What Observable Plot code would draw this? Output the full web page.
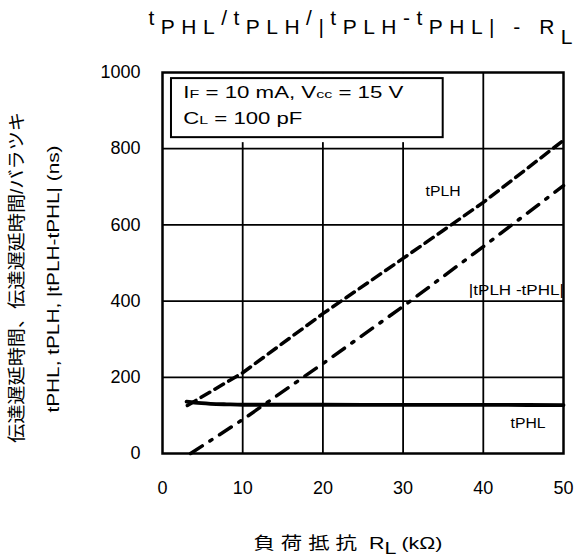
<!DOCTYPE html>
<html><head><meta charset="utf-8">
<script src="https://cdn.jsdelivr.net/npm/d3@7"></script>
<script src="https://cdn.jsdelivr.net/npm/@observablehq/plot@0.6"></script>
<style>body{margin:0;background:#fff}</style>
</head><body><div id="chart"></div>
<script>
// ---- data ----
const rlPLH = [3.1, 10, 20, 30, 40, 50];
const tPLH = [126, 212, 367, 512, 659, 822];
const rlDiff = [3.5, 10, 20, 30, 40, 50];
const tDiff = [0, 89, 236, 386, 543, 703];
const rlPHL = [3, 4, 6, 8, 10, 20, 30, 40, 50];
const tPHL = [136, 133.5, 130.5, 129, 128, 128, 127.5, 127.5, 127];
const xTicks = [0, 10, 20, 30, 40, 50];
const yTicks = [0, 200, 400, 600, 800, 1000];

const titleText = "tPHL/tPLH/|tPLH-tPHL| - RL";
const xTitle = "負 荷 抵 抗  RL (kΩ)";
const yTitle1 = "伝達遅延時間、伝達遅延時間/バラツキ";
const yTitle2 = "tPHL, tPLH, |tPLH-tPHL| (ns)";
const cond1 = "IF = 10 mA, Vcc = 15 V";
const cond2 = "CL = 100 pF";
const labPLH = "tPLH";
const labDiff = "|tPLH -tPHL|";
const labPHL = "tPHL";

const sPLH = rlPLH.map((x, i) => ({x, y: tPLH[i]}));
const sDiff = rlDiff.map((x, i) => ({x, y: tDiff[i]}));
const sPHL = rlPHL.map((x, i) => ({x, y: tPHL[i]}));

const FONT = '"Liberation Sans", Arial, "Noto Sans CJK JP", sans-serif';

// rich-text rendering (sub/superscripts) applied after Plot draws the text
const sm = (s, k = 0.72) => `<tspan font-size="${k}em">${s}</tspan>`;
const up = (s) => `<tspan dy="-9">${s}</tspan>`;
const dn = (s) => `<tspan dy="9">${s}</tspan>`;
const rich = new Map([
  [titleText, {base: true, len: 424, adjust: "spacing",
    html: up("t") + dn("PHL") + up("/t") + dn("PLH") + up("/") + dn("|") + up("t") + dn("PLH") + up("-t") + dn("PHL| - R") + `<tspan dy="10">L</tspan>`}],
  [xTitle, {base: true, len: 189,
    html: `負 荷 抵 抗  R<tspan dy="5">L</tspan><tspan dy="-5"> (kΩ)</tspan>`}],
  [cond1, {base: true, len: 220, html: `I${sm("F")} = 10 mA, V${sm("cc")} = 15 V`}],
  [cond2, {base: true, len: 119, html: `C${sm("L")} = 100 pF`}],
  [yTitle1, {len: 331}],
  [yTitle2, {len: 267}],
  [labPLH, {base: true, len: 35}],
  [labDiff, {base: true, len: 95}],
  [labPHL, {base: true, len: 35}]
]);

const chart = Plot.plot({
  width: 576,
  height: 560,
  marginTop: 72,
  marginBottom: 107,
  marginLeft: 162,
  marginRight: 13,
  style: {fontFamily: FONT, fontSize: "18px", color: "black", background: "white"},
  x: {domain: [0, 50]},
  y: {domain: [0, 1000]},
  marks: [
    Plot.ruleX(xTicks.slice(1, -1), {stroke: "black", strokeWidth: 1.8}),
    Plot.ruleY(yTicks.slice(1, -1), {stroke: "black", strokeWidth: 1.8}),
    // condition box
    Plot.rect([0], {x1: 1.12, x2: 35, y1: 829, y2: 984, fill: "white", stroke: "white", strokeWidth: 10}),
    Plot.rect([0], {x1: 1.12, x2: 35, y1: 829, y2: 984, fill: "none", stroke: "black", strokeWidth: 2}),
    Plot.text([cond1], {x: 2.6, y: 932, text: d => d, textAnchor: "start", fontSize: 16}),
    Plot.text([cond2], {x: 2.6, y: 866, text: d => d, textAnchor: "start", fontSize: 16}),
    // curves
    Plot.line(sPHL, {x: "x", y: "y", stroke: "black", strokeWidth: 3.8, curve: "monotone-x"}),
    Plot.line(sPLH, {x: "x", y: "y", stroke: "black", strokeWidth: 3.5, strokeDasharray: "10,6"}),
    Plot.line(sDiff, {x: "x", y: "y", stroke: "black", strokeWidth: 3.5, strokeDasharray: "14,9,2.5,9"}),
    Plot.frame({stroke: "black", strokeWidth: 2.5}),
    // curve labels
    Plot.text([labPLH], {x: 32.8, y: 677, text: d => d, textAnchor: "start", fontSize: 14}),
    Plot.text([labDiff], {x: 38.2, y: 415, text: d => d, textAnchor: "start", fontSize: 14}),
    Plot.text([labPHL], {x: 43.4, y: 66, text: d => d, textAnchor: "start", fontSize: 14}),
    // axes
    Plot.axisX(xTicks, {tickSize: 0, tickPadding: 28, fontSize: 18, label: null, tickFormat: d => String(d)}),
    Plot.axisY(yTicks, {tickSize: 0, tickPadding: 22, fontSize: 18, label: null, tickFormat: d => String(d)}),
    // titles
    Plot.text([titleText], {frameAnchor: "top-left", dx: -14, dy: -39, text: d => d, textAnchor: "start", fontSize: 21}),
    Plot.text([xTitle], {frameAnchor: "bottom", dx: -15, dy: 95, text: d => d, textAnchor: "middle", fontSize: 17}),
    Plot.text([yTitle1], {frameAnchor: "left", rotate: -90, dx: -145, dy: 14.5, text: d => d, textAnchor: "middle", lineAnchor: "middle", fontSize: 18}),
    Plot.text([yTitle2], {frameAnchor: "left", rotate: -90, dx: -109, dy: 16, text: d => d, textAnchor: "middle", lineAnchor: "middle", fontSize: 17})
  ]
});

d3.select(chart).selectAll("text").each(function () {
  const r = rich.get(this.textContent);
  if (!r) return;
  if (r.html) this.innerHTML = r.html;
  if (r.base) { this.setAttribute("y", "0"); this.removeAttribute("dy"); }
  if (r.len) { this.setAttribute("textLength", r.len); this.setAttribute("lengthAdjust", r.adjust || "spacingAndGlyphs"); }
});

document.getElementById("chart").appendChild(chart);
</script>
</body></html>
